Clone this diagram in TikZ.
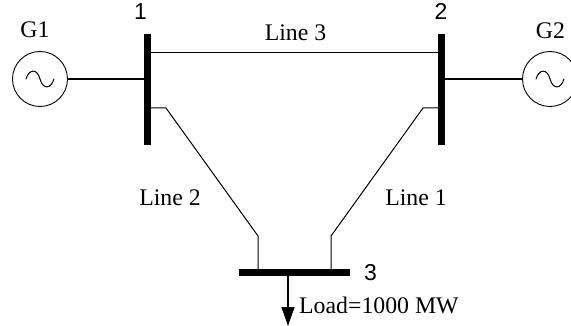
\documentclass[tikz,border=0pt]{standalone}
\usepackage{fontspec}
\setmainfont{Liberation Serif}
\newfontfamily\busfont{Liberation Sans}
\usetikzlibrary{arrows.meta}
\tikzset{
  busv/.style={rectangle,fill=black,inner sep=0pt,minimum width=7pt,minimum height=111pt},
  bush/.style={rectangle,fill=black,inner sep=0pt,minimum width=111pt,minimum height=7pt},
  gen/.style={circle,draw=black,line width=0.9pt,inner sep=0pt,minimum size=55pt},
  wire/.style={draw=black,line width=1pt},
  thick wire/.style={draw=black,line width=1.4pt},
  lbl/.style={font=\fontsize{23.8}{26}\selectfont,inner sep=0pt,text=black,anchor=base},
  buslbl/.style={font=\busfont\fontsize{23}{26}\selectfont,inner sep=0pt,text=black,anchor=base},
  sine/.style={draw=black,line width=1pt,line cap=round}
}
\begin{document}
\begin{tikzpicture}[x=1pt,y=-1pt]
\useasboundingbox (0,0) rectangle (571,326);
\path[fill=white] (0,0) rectangle (571,326);
% buses
\node[busv] (b1) at (147.5,89.5) {};
\node[busv] (b2) at (441.5,89.5) {};
\node[bush] (b3) at (294.5,273) {};
% generators
\node[gen] (g1) at (40,79) {};
\node[gen] (g2) at (550,79) {};
% sine symbols
\draw[sine] (26,79) .. controls (29,69) and (37,68) .. (40,79) .. controls (43,90) and (51,89) .. (54,79);
\draw[sine] (536,79) .. controls (539,69) and (547,68) .. (550,79) .. controls (553,90) and (561,89) .. (564,79);
% connector ends
\coordinate (l3a) at (b1.east |- 0,53);
\coordinate (l3b) at (b2.west |- 0,53);
\coordinate (l2a) at (b1.east |- 0,108);
\coordinate (l2b) at (166,108);
\coordinate (l2c) at (258,236);
\coordinate (l2d) at (258,270);
\coordinate (l1a) at (b2.west |- 0,108);
\coordinate (l1b) at (423,108);
\coordinate (l1c) at (331,236);
\coordinate (l1d) at (331,270);
\coordinate (g1b) at (b1.west |- g1);
\coordinate (g2b) at (b2.east |- g2);
\coordinate (loadtop) at (288,276);
\coordinate (loadend) at (288,326);
% connectors
\draw[thick wire] (g1) -- (g1b);
\draw[thick wire] (g2b) -- (g2);
\draw[wire] (l3a) -- (l3b);
\draw[wire,line join=miter] (l2a) -- (l2b) -- (l2c) -- (l2d);
\draw[wire,line join=miter] (l1a) -- (l1b) -- (l1c) -- (l1d);
\draw[wire,line width=1.2pt,-{Triangle[length=19pt,width=13pt]}] (loadtop) -- (loadend);
% labels
\node[lbl] (tg1) at (35,38) {G1};
\node[lbl] (tg2) at (550.5,39) {G2};
\node[lbl] (tl3) at (295.5,41) {Line 3};
\node[lbl] (tl2) at (170,206) {Line 2};
\node[lbl] (tl1) at (416,206) {Line 1};
\node[lbl,anchor=base west] (tload) at (299,313) {Load=1000 MW};
\node[buslbl] (n1) at (140.5,20) {1};
\node[buslbl] (n2) at (441,20) {2};
\node[buslbl] (n3) at (370.5,280) {3};
\end{tikzpicture}
\end{document}
